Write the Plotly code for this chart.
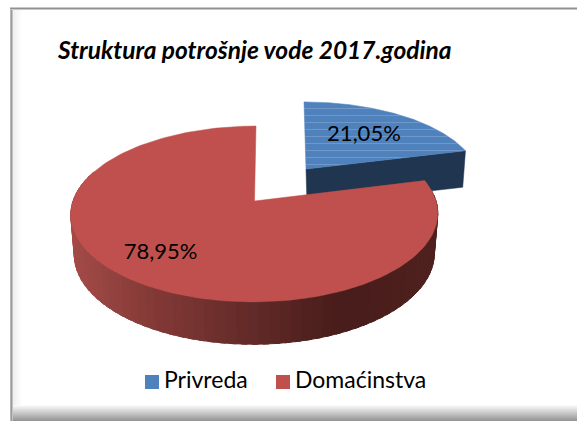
import numpy as np
import plotly.graph_objects as go

# ---- data ----
categories = ["Privreda", "Domaćinstva"]
values = [21.05, 78.95]
colors = ["#4F81BD", "#C0504D"]
chart_title = "Struktura potrošnje vode 2017.godina"

# ---- drawing geometry (pixel space of the 577x421 page) ----
K = 0.1477  # perspective strength
top = {
    "Privreda": dict(cx=306, cy=169, R=171, S=77, skew=2),
    "Domaćinstva": dict(cx=254.5, cy=201, R=181.5, S=86, skew=-1.5),
}
bottom = {
    "Privreda": dict(cx=307, cy=205, R=167, S=75, skew=2),
    "Domaćinstva": dict(cx=254.5, cy=241, R=178, S=88, skew=-1.5),
}
label_radius = [0.6, 0.76]


def proj(p, theta_deg, r=1.0):
    t = np.radians(np.asarray(theta_deg, dtype=float))
    u, v = r * np.sin(t), r * np.cos(t)
    w = 1 + K * v
    return p["cx"] + p["R"] * u / w - p["skew"] * v, p["cy"] - p["S"] * v / w


def wedge(p, a0, a1):
    th = np.linspace(a0, a1, 200)
    x, y = proj(p, th)
    return np.r_[p["cx"], x, p["cx"]], np.r_[p["cy"], y, p["cy"]]


def mix(stops, x):
    xs = [s[0] for s in stops]
    ch = [np.interp(x, xs, [s[1][i] for s in stops]) for i in range(3)]
    return "rgb(%d,%d,%d)" % tuple(ch)


total = sum(values)
sweep = [v / total * 360 for v in values]
starts = [0, sweep[0]]
ends = [sweep[0], 360]

fig = go.Figure()

# exploded blue slice: dark cut face, then textured top
b_t, b_b = top[categories[0]], bottom[categories[0]]
x0, y0 = proj(b_t, ends[0])
x1, y1 = proj(b_b, ends[0])
fig.add_trace(go.Scatter(
    x=[b_t["cx"], x0, x1, b_b["cx"], b_t["cx"]], y=[b_t["cy"], y0, y1, b_b["cy"], b_t["cy"]],
    mode="lines", fill="toself", fillcolor="#1F3550", line=dict(color="#1F3550", width=0.5),
    hoverinfo="skip"))
xw, yw = wedge(b_t, starts[0], ends[0])
fig.add_trace(go.Scatter(
    x=xw, y=yw, mode="lines", fill="toself", line=dict(color=colors[0], width=0.5),
    fillcolor=colors[0],
    fillpattern=dict(shape="-", bgcolor=colors[0], fgcolor="#FFFFFF", fgopacity=0.18, size=7, solidity=0.15),
    hoverinfo="skip"))

# red slice: shaded outer wall as overlapping strips, then flat top
r_t, r_b = top[categories[1]], bottom[categories[1]]
shade = [(70, (166, 76, 73)), (150, (132, 58, 55)), (250, (98, 42, 40)),
         (335, (72, 29, 27)), (440, (80, 33, 31))]
edges = np.linspace(ends[0] + 8, 290, 70)
for a0, a1 in zip(edges[:-1], edges[1:]):
    th = np.linspace(a0 - 0.8, a1 + 0.8, 4)
    tx, ty = proj(r_t, th)
    bx, by = proj(r_b, th)
    c = mix(shade, float(np.mean(bx)))
    fig.add_trace(go.Scatter(
        x=np.r_[tx, bx[::-1], tx[0]], y=np.r_[ty, by[::-1], ty[0]],
        mode="lines", fill="toself", fillcolor=c, line=dict(color=c, width=1), hoverinfo="skip"))
xw, yw = wedge(r_t, starts[1], ends[1])
fig.add_trace(go.Scatter(
    x=xw, y=yw, mode="lines", fill="toself", fillcolor=colors[1],
    line=dict(color=colors[1], width=0.5), hoverinfo="skip"))

# value labels
for i, name in enumerate(categories):
    lx, ly = proj(top[name], (starts[i] + ends[i]) / 2, label_radius[i])
    fig.add_trace(go.Scatter(
        x=[lx], y=[ly + (1 if i == 0 else -4)], mode="text", text=[f"{values[i]:.2f}".replace(".", ",") + "%"],
        textposition="middle center", textfont=dict(family="Lato", size=22, color="#000000"),
        hoverinfo="skip"))

# legend row
legend_x = [152, 283]
for i, name in enumerate(categories):
    fig.add_trace(go.Scatter(
        x=[legend_x[i]], y=[382], mode="markers",
        marker=dict(symbol="square", size=14, color=colors[i]), hoverinfo="skip"))
    fig.add_trace(go.Scatter(
        x=[legend_x[i] + 12], y=[382], mode="text", text=[name], textposition="middle right",
        textfont=dict(family="Lato", size=23, color="#000000"), hoverinfo="skip"))

# chart frame with soft shadow
shapes = []
def band(x0, x1, y0, y1, c):
    shapes.append(dict(type="rect", xref="x", yref="y", x0=x0, x1=x1, y0=y0, y1=y1,
                       fillcolor=c, line=dict(width=0), layer="below"))
for y, g in zip(range(405, 421), np.linspace(250, 150, 16)):
    band(10, 577, y, y + 1, "rgb(%d,%d,%d)" % (g, g, g))
for x, g in zip(range(13, 22), np.linspace(240, 254, 9)):
    band(x, x + 1, 10, 405, "rgb(%d,%d,%d)" % (g, g, g))
for x, c in zip((10, 11, 12), ("#B8B8B8", "#9A9A9A", "#C4C4C4")):
    band(x, x + 1, 8, 421, c)
for y, c in zip((7, 8, 9), ("#C8C8C8", "#909090", "#C8C8C8")):
    band(10, 577, y, y + 1, c)

fig.update_layout(
    width=577, height=421, autosize=False, showlegend=False,
    margin=dict(l=0, r=0, t=0, b=0),
    paper_bgcolor="#FFFFFF", plot_bgcolor="#FFFFFF",
    xaxis=dict(range=[0, 577], visible=False, fixedrange=True),
    yaxis=dict(range=[421, 0], visible=False, fixedrange=True),
    shapes=shapes,
    annotations=[dict(
        x=55, y=49, xref="x", yref="y", xanchor="left", yanchor="middle", showarrow=False,
        text="<b><i>" + chart_title + "</i></b>",
        font=dict(family="Lato", size=24.5, color="#000000"))],
)
fig.write_html("out.html", config=dict(displayModeBar=False),
               post_script="document.body.style.margin='0';document.body.style.overflow='hidden';")
